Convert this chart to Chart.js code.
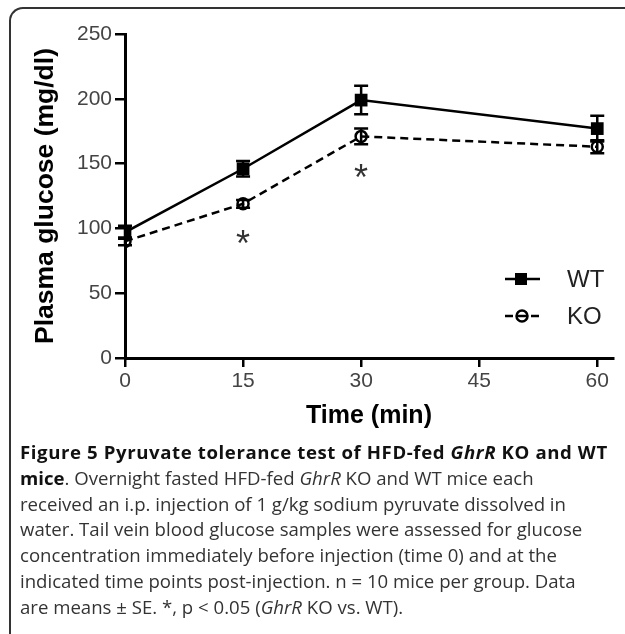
<!DOCTYPE html>
<html>
<head>
<meta charset="utf-8">
<script src="https://cdn.jsdelivr.net/npm/chart.js@4.4.0/dist/chart.umd.min.js"></script>
<style>
  html, body { margin: 0; padding: 0; background: #fff; width: 625px; height: 634px; overflow: hidden; }
  #frame { position: absolute; left: 9px; top: 7px; width: 640px; height: 640px;
           border-top: 2px solid #333; border-left: 2px solid #333; border-top-left-radius: 14px; }
  #wrap { position: absolute; left: 0; top: 0; width: 625px; height: 440px; }
  #caption { position: absolute; left: 20px; top: 439px; font-family: "Open Sans", sans-serif;
             font-size: 18.6px; line-height: 25.8px; color: #333; white-space: nowrap; }
  #caption b { color: #111; }
  #caption .l1 { letter-spacing: 0.6px; }
</style>
</head>
<body>
<div id="frame"></div>
<div id="wrap"><canvas id="c" width="625" height="440"></canvas></div>
<div id="caption">
<b class="l1">Figure 5 Pyruvate tolerance test of HFD-fed <i>GhrR</i> KO and WT</b><br>
<b>mice</b>. Overnight fasted HFD-fed <i>GhrR</i> KO and WT mice each<br>
received an i.p. injection of 1 g/kg sodium pyruvate dissolved in<br>
water. Tail vein blood glucose samples were assessed for glucose<br>
concentration immediately before injection (time 0) and at the<br>
indicated time points post-injection. n = 10 mice per group. Data<br>
are means ± SE. *, p &lt; 0.05 (<i>GhrR</i> KO vs. WT).
</div>
<script>
// ---- data ----
const times = [0, 15, 30, 60];
const wtMean = [97, 146, 199, 177];
const wtSE = [5, 6, 11, 10];
const koMean = [90, 119, 171, 163];
const koSE = [3, 3, 6, 5];
const xTicks = [0, 15, 30, 45, 60];
const yTicks = [0, 50, 100, 150, 200, 250];
const sigTimes = [15, 30];
const sigLevels = [92, 143];

const toPts = (arr) => times.map((t, i) => ({ x: t, y: arr[i] }));

const errorBars = {
  id: 'errorBars',
  afterDatasetsDraw(chart) {
    const { ctx, scales: { x, y } } = chart;
    const ses = [wtSE, koSE];
    ctx.save();
    ctx.strokeStyle = '#000';
    ctx.lineWidth = 2.5;
    chart.data.datasets.forEach((ds, di) => {
      ds.data.forEach((p, i) => {
        const px = x.getPixelForValue(p.x);
        const top = y.getPixelForValue(p.y + ses[di][i]);
        const bot = y.getPixelForValue(p.y - ses[di][i]);
        ctx.beginPath();
        ctx.moveTo(px, top); ctx.lineTo(px, bot);
        ctx.moveTo(px - 7, top); ctx.lineTo(px + 7, top);
        ctx.moveTo(px - 7, bot); ctx.lineTo(px + 7, bot);
        ctx.stroke();
      });
    });
    // asterisks
    ctx.fillStyle = '#333';
    ctx.font = '36px "Liberation Sans", Arial, sans-serif';
    ctx.textAlign = 'center';
    ctx.textBaseline = 'middle';
    sigTimes.forEach((t, i) => {
      ctx.fillText('*', x.getPixelForValue(t), y.getPixelForValue(sigLevels[i]) + 7);
    });
    ctx.restore();
  }
};

const customLegend = {
  id: 'customLegend',
  afterDraw(chart) {
    const { ctx } = chart;
    const rows = [279, 316];
    ctx.save();
    chart.data.datasets.forEach((ds, i) => {
      const yy = rows[i];
      ctx.strokeStyle = '#000';
      ctx.lineWidth = 2.5;
      ctx.setLineDash(ds.borderDash || []);
      ctx.beginPath();
      ctx.moveTo(505, yy); ctx.lineTo(540, yy);
      ctx.stroke();
      ctx.setLineDash([]);
      if (ds.pointStyle === 'rect') {
        ctx.fillStyle = '#000';
        ctx.fillRect(515, yy - 6, 12, 12);
      } else {
        ctx.fillStyle = '#fff';
        ctx.beginPath();
        ctx.arc(522, yy, 5.5, 0, Math.PI * 2);
        ctx.fill();
        ctx.beginPath();
        ctx.moveTo(516, yy); ctx.lineTo(528, yy);
        ctx.stroke();
        ctx.beginPath();
        ctx.arc(522, yy, 5.5, 0, Math.PI * 2);
        ctx.stroke();
      }
      ctx.fillStyle = '#222';
      ctx.font = '24px "Liberation Sans", Arial, sans-serif';
      ctx.textAlign = 'left';
      ctx.textBaseline = 'middle';
      ctx.fillText(ds.label, 567, yy + 1);
    });
    ctx.restore();
  }
};

new Chart(document.getElementById('c'), {
  type: 'line',
  data: {
    datasets: [
      { label: 'WT', data: toPts(wtMean), borderColor: '#000', borderWidth: 2.5,
        pointStyle: 'rect', pointRadius: 9, pointBackgroundColor: '#000', pointBorderWidth: 0,
        tension: 0 },
      { label: 'KO', data: toPts(koMean), borderColor: '#000', borderWidth: 2.5, borderDash: [8, 5],
        pointStyle: 'circle', pointRadius: 5.5, pointBackgroundColor: 'rgba(255,255,255,0)',
        pointBorderColor: '#000', pointBorderWidth: 2.5, tension: 0 }
    ]
  },
  options: {
    responsive: false,
    animation: false,
    layout: { padding: { left: 0, right: 12, top: 34, bottom: 0 } },
    plugins: { legend: { display: false }, tooltip: { enabled: false } },
    scales: {
      x: {
        type: 'linear', min: 0, max: 62,
        afterBuildTicks: (s) => { s.ticks = xTicks.map(v => ({ value: v })); },
        afterFit: (s) => { s.height = 82; },
        border: { display: true, color: '#000', width: 3 },
        grid: { drawOnChartArea: false, drawTicks: true, tickLength: 9, color: '#000', lineWidth: 2.5 },
        ticks: { color: '#444', padding: 2, font: { family: '"Liberation Sans", Arial, sans-serif', size: 21 } },
        title: { display: true, text: 'Time (min)', color: '#000', padding: { top: 0, bottom: 9 },
                 font: { family: '"Liberation Sans", Arial, sans-serif', size: 25, weight: 'bold' } }
      },
      y: {
        type: 'linear', min: 0, max: 250,
        afterBuildTicks: (s) => { s.ticks = yTicks.map(v => ({ value: v })); },
        afterFit: (s) => { s.width = 125; },
        border: { display: true, color: '#000', width: 3 },
        grid: { drawOnChartArea: false, drawTicks: true, tickLength: 10, color: '#000', lineWidth: 2.5 },
        ticks: { color: '#444', padding: 3, font: { family: '"Liberation Sans", Arial, sans-serif', size: 21 } },
        title: { display: true, text: 'Plasma glucose (mg/dl)', color: '#000', padding: { top: 30, bottom: 0 },
                 font: { family: '"Liberation Sans", Arial, sans-serif', size: 26.5, weight: 'bold' } }
      }
    }
  },
  plugins: [errorBars, customLegend]
});
</script>
</body>
</html>
